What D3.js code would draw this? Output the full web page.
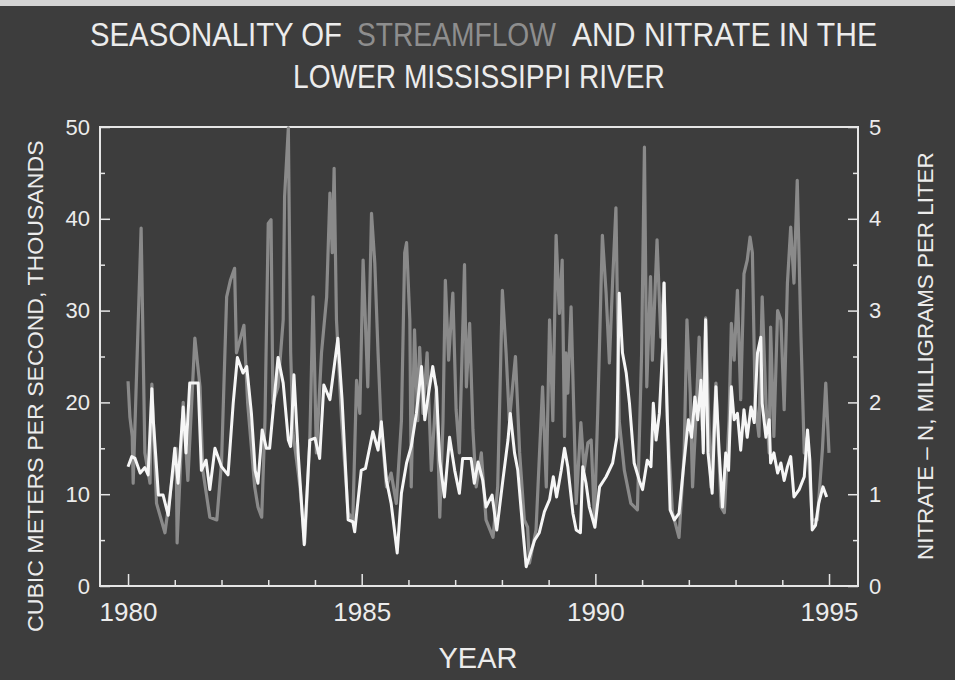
<!DOCTYPE html>
<html>
<head>
<meta charset="utf-8">
<script src="https://cdn.jsdelivr.net/npm/d3@7"></script>
<style>
  html, body { margin: 0; padding: 0; background: #3e3e3e; }
  svg { display: block; }
  text { font-family: "Liberation Sans", Arial, sans-serif; fill: #ececec; }
</style>
</head>
<body>
<div id="chart"></div>
<script>
// streamflow, thousands of cubic meters per second
var flowYears = [1980.00, 1980.04, 1980.09, 1980.11, 1980.28, 1980.36, 1980.47, 1980.51, 1980.61, 1980.79,
	1981.03, 1981.05, 1981.18, 1981.28, 1981.43, 1981.54, 1981.60, 1981.75, 1981.90, 1982.00,
	1982.11, 1982.19, 1982.28, 1982.32, 1982.48, 1982.56, 1982.71, 1982.78, 1982.86, 1982.93,
	1983.00, 1983.06, 1983.10, 1983.21, 1983.32, 1983.35, 1983.43, 1983.48, 1983.53, 1983.68,
	1983.78, 1983.89, 1983.96, 1984.03, 1984.14, 1984.25, 1984.32, 1984.37, 1984.41, 1984.46,
	1984.57, 1984.71, 1984.81, 1984.89, 1984.96, 1985.03, 1985.13, 1985.21, 1985.28, 1985.35,
	1985.41, 1985.53, 1985.63, 1985.74, 1985.85, 1985.92, 1985.96, 1986.03, 1986.06, 1986.13,
	1986.20, 1986.24, 1986.31, 1986.40, 1986.49, 1986.60, 1986.67, 1986.74, 1986.79, 1986.86,
	1986.95, 1987.02, 1987.09, 1987.20, 1987.24, 1987.31, 1987.38, 1987.45, 1987.56, 1987.66,
	1987.81, 1987.91, 1988.01, 1988.09, 1988.16, 1988.29, 1988.38, 1988.48, 1988.55, 1988.59,
	1988.73, 1988.87, 1988.95, 1989.02, 1989.09, 1989.16, 1989.23, 1989.29, 1989.34, 1989.37,
	1989.41, 1989.48, 1989.59, 1989.69, 1989.76, 1989.84, 1989.91, 1989.98, 1990.05, 1990.15,
	1990.23, 1990.30, 1990.37, 1990.44, 1990.51, 1990.62, 1990.76, 1990.90, 1990.99, 1991.05,
	1991.10, 1991.18, 1991.22, 1991.32, 1991.40, 1991.47, 1991.54, 1991.65, 1991.79, 1991.90,
	1991.96, 1992.03, 1992.08, 1992.15, 1992.22, 1992.29, 1992.36, 1992.47, 1992.58, 1992.69,
	1992.76, 1992.86, 1992.91, 1992.97, 1993.04, 1993.11, 1993.18, 1993.25, 1993.31, 1993.36,
	1993.42, 1993.50, 1993.57, 1993.65, 1993.72, 1993.75, 1993.82, 1993.90, 1993.97, 1994.04,
	1994.11, 1994.18, 1994.25, 1994.32, 1994.40, 1994.47, 1994.54, 1994.64, 1994.75, 1994.86,
	1994.93, 1995.00];
var flowValues = [22.3, 18.4, 16.3, 11.2, 39.0, 14.5, 11.2, 22.0, 9.0, 5.8,
	15.0, 4.7, 20.0, 11.5, 27.0, 21.7, 12.6, 7.5, 7.2, 13.4,
	31.5, 33.3, 34.6, 25.4, 28.4, 19.9, 10.8, 8.6, 7.5, 18.0,
	39.5, 39.9, 19.9, 21.7, 29.0, 42.4, 49.9, 25.4, 16.7, 10.8,
	4.7, 15.9, 31.5, 14.5, 25.4, 31.5, 42.8, 36.3, 45.5, 29.0,
	18.0, 8.0, 7.2, 22.4, 18.8, 35.5, 21.7, 40.6, 35.2, 25.4,
	18.0, 10.8, 12.3, 9.0, 18.0, 36.3, 37.4, 29.0, 10.8, 27.9,
	18.0, 26.0, 18.8, 25.4, 12.6, 21.7, 7.5, 18.0, 33.3, 24.6,
	31.9, 19.2, 14.5, 35.0, 21.7, 28.6, 17.0, 10.8, 14.5, 7.2,
	5.3, 10.8, 32.2, 25.4, 18.0, 25.0, 14.5, 7.2, 6.4, 2.5,
	6.1, 21.7, 10.8, 29.0, 18.0, 38.2, 29.7, 35.5, 16.3, 25.4,
	21.0, 30.4, 9.0, 17.8, 12.6, 15.6, 15.9, 7.2, 18.8, 38.2,
	31.9, 24.3, 33.3, 41.2, 18.0, 12.6, 9.0, 8.3, 25.4, 47.8,
	21.7, 33.7, 24.6, 37.7, 27.1, 33.0, 18.0, 8.0, 5.3, 14.5,
	29.0, 21.0, 10.8, 18.0, 27.1, 17.0, 29.2, 10.8, 22.1, 8.6,
	8.0, 18.0, 28.6, 24.6, 32.2, 20.3, 34.0, 35.5, 38.0, 36.3,
	19.9, 16.3, 31.5, 19.9, 14.5, 28.2, 16.3, 30.0, 29.0, 19.2,
	33.0, 39.1, 33.0, 44.2, 27.1, 14.5, 16.3, 7.2, 7.2, 15.0,
	22.1, 14.5];

// nitrate-N, milligrams per liter
var nitrateYears = [1980.00, 1980.08, 1980.15, 1980.26, 1980.36, 1980.43, 1980.51, 1980.54, 1980.65, 1980.75,
	1980.86, 1981.00, 1981.07, 1981.18, 1981.24, 1981.32, 1981.50, 1981.57, 1981.67, 1981.75,
	1981.86, 1982.00, 1982.14, 1982.25, 1982.34, 1982.46, 1982.54, 1982.64, 1982.69, 1982.72,
	1982.78, 1982.87, 1982.96, 1983.03, 1983.21, 1983.32, 1983.43, 1983.48, 1983.55, 1983.64,
	1983.77, 1983.89, 1984.00, 1984.10, 1984.19, 1984.32, 1984.49, 1984.58, 1984.71, 1984.81,
	1984.85, 1984.99, 1985.08, 1985.24, 1985.35, 1985.42, 1985.53, 1985.63, 1985.76, 1985.85,
	1985.96, 1986.06, 1986.17, 1986.28, 1986.35, 1986.42, 1986.52, 1986.60, 1986.67, 1986.77,
	1986.88, 1986.99, 1987.09, 1987.16, 1987.34, 1987.41, 1987.49, 1987.59, 1987.66, 1987.79,
	1987.89, 1988.02, 1988.13, 1988.18, 1988.27, 1988.34, 1988.43, 1988.52, 1988.59, 1988.70,
	1988.80, 1988.91, 1989.02, 1989.10, 1989.17, 1989.27, 1989.34, 1989.41, 1989.52, 1989.59,
	1989.68, 1989.73, 1989.80, 1989.87, 1989.99, 1990.09, 1990.23, 1990.37, 1990.46, 1990.51,
	1990.58, 1990.66, 1990.73, 1990.83, 1990.94, 1991.01, 1991.11, 1991.19, 1991.24, 1991.30,
	1991.37, 1991.44, 1991.47, 1991.53, 1991.60, 1991.69, 1991.79, 1991.88, 1991.99, 1992.06,
	1992.13, 1992.19, 1992.26, 1992.31, 1992.36, 1992.41, 1992.50, 1992.58, 1992.65, 1992.72,
	1992.79, 1992.85, 1992.91, 1992.97, 1993.04, 1993.11, 1993.18, 1993.25, 1993.33, 1993.40,
	1993.47, 1993.54, 1993.57, 1993.65, 1993.72, 1993.75, 1993.82, 1993.90, 1993.97, 1994.04,
	1994.11, 1994.18, 1994.25, 1994.36, 1994.47, 1994.54, 1994.59, 1994.64, 1994.71, 1994.78,
	1994.87, 1994.95];
var nitrateValues = [1.30, 1.41, 1.39, 1.23, 1.29, 1.21, 2.15, 1.81, 0.99, 0.99,
	0.77, 1.50, 1.12, 1.95, 1.45, 2.21, 2.21, 1.26, 1.37, 1.05,
	1.50, 1.30, 1.21, 1.99, 2.49, 2.32, 2.39, 1.88, 1.50, 1.26,
	1.12, 1.70, 1.50, 1.50, 2.49, 2.21, 1.59, 1.52, 2.30, 1.45,
	0.45, 1.59, 1.61, 1.39, 2.19, 2.03, 2.70, 2.03, 0.72, 0.70,
	0.59, 1.26, 1.28, 1.68, 1.48, 1.79, 1.15, 0.90, 0.36, 1.01,
	1.34, 1.52, 1.88, 2.39, 1.81, 2.06, 2.39, 2.14, 1.37, 0.97,
	1.62, 1.26, 1.01, 1.39, 1.39, 1.12, 1.35, 1.15, 0.86, 0.99,
	0.61, 1.15, 1.59, 1.88, 1.45, 1.26, 0.72, 0.21, 0.32, 0.50,
	0.58, 0.81, 0.94, 1.19, 0.97, 1.26, 1.50, 1.30, 0.79, 0.61,
	0.58, 1.30, 1.12, 0.86, 0.64, 1.08, 1.19, 1.34, 1.62, 3.19,
	2.54, 2.32, 1.99, 1.34, 1.15, 1.05, 1.37, 1.30, 1.99, 1.59,
	1.88, 2.60, 3.30, 1.99, 0.83, 0.72, 0.79, 1.26, 1.81, 1.62,
	2.06, 1.81, 2.24, 1.45, 2.90, 1.45, 1.01, 2.17, 1.45, 0.86,
	1.45, 1.26, 2.17, 1.81, 1.88, 1.48, 1.92, 1.62, 1.95, 1.78,
	2.54, 2.71, 1.99, 1.62, 1.81, 1.34, 1.45, 1.23, 1.34, 1.15,
	1.30, 1.41, 0.97, 1.05, 1.19, 1.70, 1.37, 0.61, 0.66, 0.90,
	1.08, 0.97];

var yearTicks = d3.range(1980, 1996);
var flowTicks = d3.range(0, 51, 5);
var nitrateTicks = d3.range(0, 5.01, 0.5);

var W = 955, H = 680;
var plotLeft = 100, plotRight = 858, plotTop = 127, plotBottom = 586;

var svg = d3.select("#chart").append("svg")
	.attr("width", W)
	.attr("height", H);

svg.append("rect").attr("width", W).attr("height", H).attr("fill", "#3d3d3d");
svg.append("rect").attr("width", W).attr("height", 6).attr("fill", "#d4d4d4");

var x = d3.scaleLinear().domain([1979.4, 1995.62]).range([plotLeft, plotRight]);
var yFlow = d3.scaleLinear().domain([0, 50]).range([plotBottom, plotTop]);
var yNit = d3.scaleLinear().domain([0, 5]).range([plotBottom, plotTop]);

// frame
svg.append("rect")
	.attr("x", plotLeft).attr("y", plotTop)
	.attr("width", plotRight - plotLeft).attr("height", plotBottom - plotTop)
	.attr("fill", "none")
	.attr("stroke", "#e6e6e6")
	.attr("stroke-width", 2);

// x axis, ticks pointing in
var xAxis = svg.append("g")
	.attr("transform", "translate(0," + plotBottom + ")")
	.call(d3.axisBottom(x).tickValues(yearTicks).tickSize(-6).tickPadding(17)
		.tickFormat(function (d) { return d % 5 == 0 ? d : ""; }));
xAxis.select(".domain").remove();
xAxis.selectAll(".tick line").attr("stroke", "#e6e6e6").attr("stroke-width", 1.5)
	.attr("y2", function (d) { return d % 5 == 0 ? -12 : -6; });
xAxis.selectAll(".tick text").style("font-size", "26px").attr("fill", "#ececec");

// left axis
var yAxisL = svg.append("g")
	.attr("transform", "translate(" + plotLeft + ",0)")
	.call(d3.axisLeft(yFlow).tickValues(flowTicks).tickSize(-5).tickPadding(10)
		.tickFormat(function (d) { return d % 10 == 0 ? d : ""; }));
yAxisL.select(".domain").remove();
yAxisL.selectAll(".tick line").attr("stroke", "#e6e6e6").attr("stroke-width", 1.5)
	.attr("x2", function (d) { return d % 10 == 0 ? 10 : 5; });
yAxisL.selectAll(".tick text").style("font-size", "22px").attr("fill", "#ececec");

// right axis
var yAxisR = svg.append("g")
	.attr("transform", "translate(" + plotRight + ",0)")
	.call(d3.axisRight(yNit).tickValues(nitrateTicks).tickSize(-5).tickPadding(11)
		.tickFormat(function (d) { return Math.abs(d - Math.round(d)) < 0.01 ? Math.round(d) : ""; }));
yAxisR.select(".domain").remove();
yAxisR.selectAll(".tick line").attr("stroke", "#e6e6e6").attr("stroke-width", 1.5)
	.attr("x2", function (d) { return Math.abs(d - Math.round(d)) < 0.01 ? -10 : -5; });
yAxisR.selectAll(".tick text").style("font-size", "22px").attr("fill", "#ececec");

// series
var flowData = flowYears.map(function (t, i) { return [t, flowValues[i]]; });
var nitData = nitrateYears.map(function (t, i) { return [t, nitrateValues[i]]; });

svg.append("path")
	.datum(flowData)
	.attr("fill", "none")
	.attr("stroke", "#8a8a8a")
	.attr("stroke-width", 3.2)
	.attr("stroke-linejoin", "round")
	.attr("d", d3.line().x(function (d) { return x(d[0]); }).y(function (d) { return yFlow(d[1]); }));

svg.append("path")
	.datum(nitData)
	.attr("fill", "none")
	.attr("stroke", "#f6f6f6")
	.attr("stroke-width", 3)
	.attr("stroke-linejoin", "round")
	.attr("d", d3.line().x(function (d) { return x(d[0]); }).y(function (d) { return yNit(d[1]); }));

// squeeze a text to a given width with a horizontal scale (the reference type is condensed)
function squeezed(str, px, tx, ty, width, rot, fill) {
	var t = svg.append("text").style("font-size", px + "px").style("fill", fill || "#ececec").text(str);
	var natural = t.node().getComputedTextLength();
	var sx = width / natural;
	t.attr("transform", "translate(" + tx + "," + ty + ")" + (rot ? " rotate(" + rot + ")" : "") + " scale(" + sx + ",1)");
	return t;
}

// titles: three pieces so the middle word can be grey
squeezed("SEASONALITY OF", 34, 90, 46, 252);
squeezed("STREAMFLOW", 34, 357, 46, 199, 0, "#8e8e8e");
squeezed("AND NITRATE IN THE", 34, 572, 46, 305);
squeezed("LOWER MISSISSIPPI RIVER", 34, 293, 88, 372);

svg.append("text")
	.attr("x", 478).attr("y", 668)
	.attr("text-anchor", "middle")
	.style("font-size", "29px")
	.text("YEAR");

squeezed("CUBIC METERS PER SECOND, THOUSANDS", 22, 43, 632, 492, -90);
squeezed("NITRATE \u2013 N, MILLIGRAMS PER LITER", 22, 933, 560, 408, -90);
</script>
</body>
</html>
